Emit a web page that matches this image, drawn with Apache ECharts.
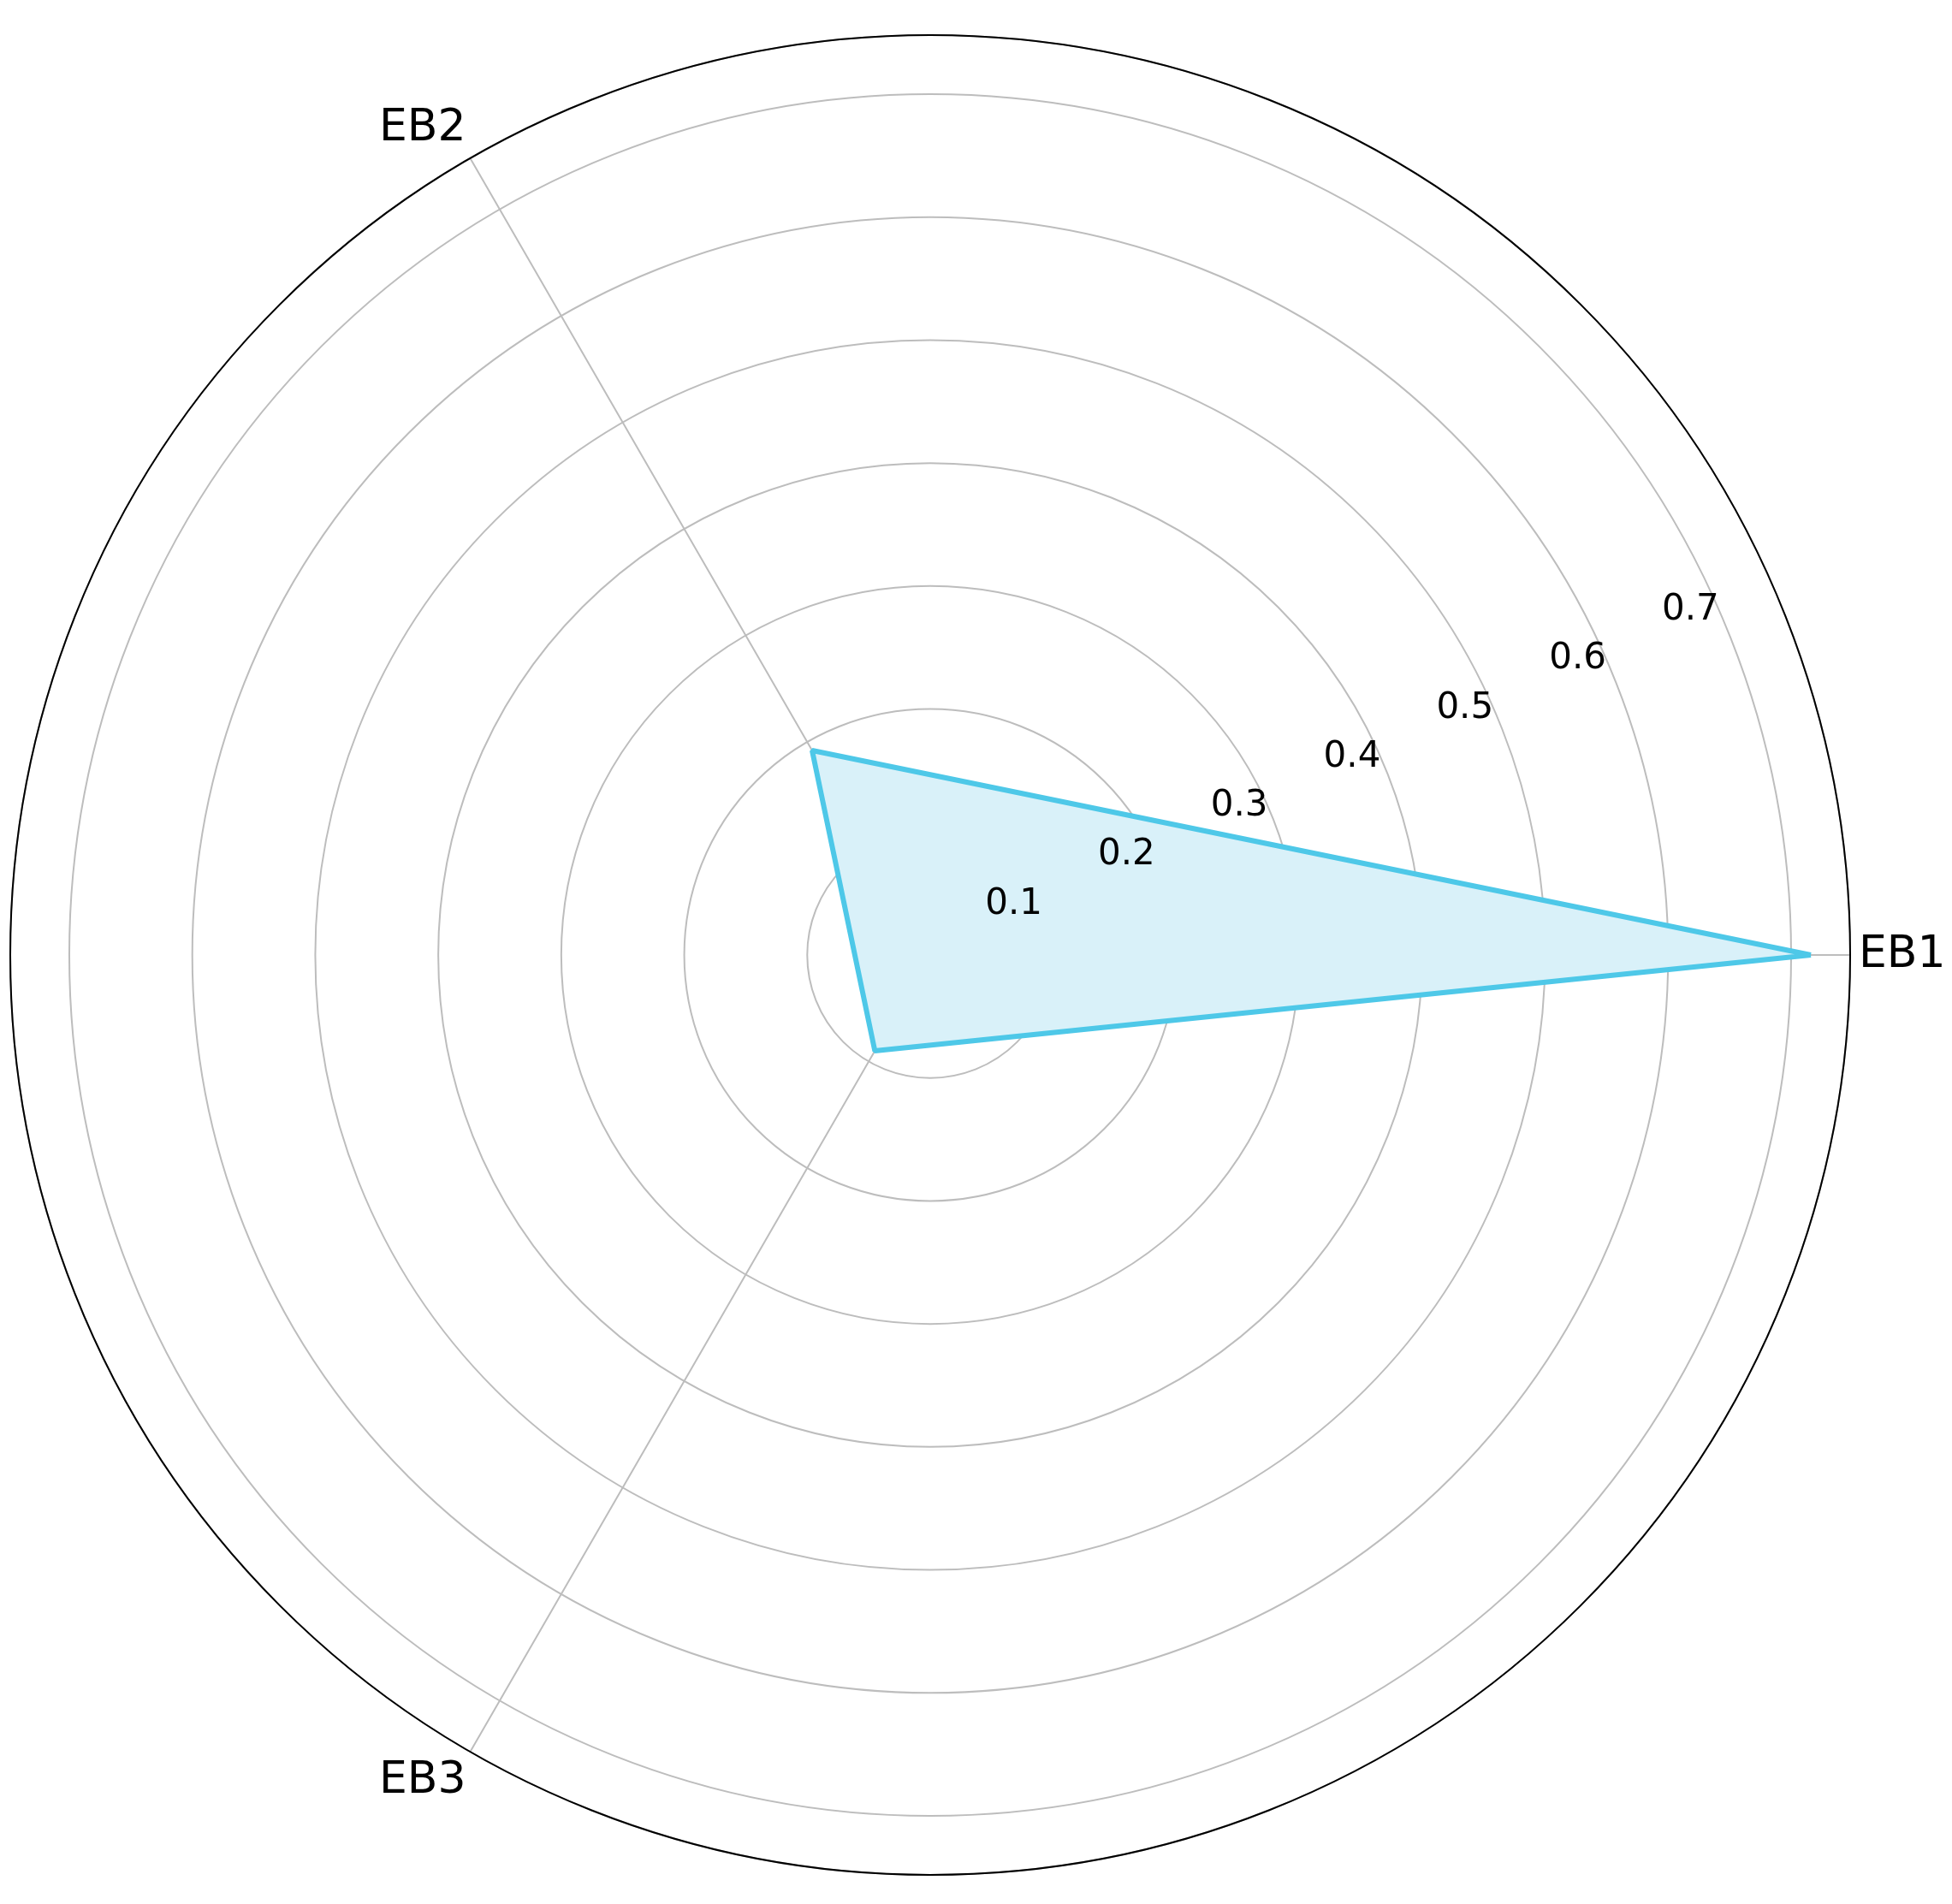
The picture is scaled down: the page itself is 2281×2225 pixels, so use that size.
<!DOCTYPE html>
<html><head><meta charset="utf-8">
<script src="https://cdn.jsdelivr.net/npm/echarts@6/dist/echarts.min.js"></script>
<style>html,body{margin:0;padding:0;background:#fff}#c{width:2281px;height:2225px}</style>
</head><body><div id="c"></div>
<script>
const categories = ['EB1','EB2','EB3'];
const categoryAngles = [0,120,240];
const values = [0.716, 0.192, 0.09];
const radialTicks = [0.1,0.2,0.3,0.4,0.5,0.6,0.7];
const rMax = 0.748;

const data = values.map((v,i)=>[v,categoryAngles[i]]);
data.push([values[0],360]);
const chart = echarts.init(document.getElementById('c'));
const center = [1087,1116], radius = 1075;
chart.setOption({
  animation:false,
  polar:[{center,radius},{center,radius}],
  angleAxis:[{
    polarIndex:0,type:'value',min:0,max:360,interval:120,startAngle:0,clockwise:false,
    axisLine:{lineStyle:{color:'#000',width:2}},axisTick:{show:false},
    axisLabel:{fontFamily:'DejaVu Sans',fontSize:52,color:'#000',margin:10,
      formatter:v=>{const i=categoryAngles.indexOf(v);return i>=0&&v<360?categories[i]:'';}},
    splitLine:{lineStyle:{color:'#bdbdbd',width:2}}
  },{
    polarIndex:1,type:'value',min:0,max:360,startAngle:23.5,clockwise:false,show:false
  }],
  radiusAxis:[{
    polarIndex:0,min:0,max:rMax,interval:0.1,
    axisLine:{show:false},axisTick:{show:false},axisLabel:{show:false},
    splitLine:{lineStyle:{color:'#bdbdbd',width:2}}
  },{
    polarIndex:1,min:0,max:rMax,interval:0.1,z:20,
    axisLine:{show:false},axisTick:{show:false},splitLine:{show:false},
    axisLabel:{fontFamily:'DejaVu Sans',fontSize:42,color:'#000',margin:2,
      formatter:v=>radialTicks.some(t=>Math.abs(t-v)<1e-6)?v.toFixed(1):''}
  }],
  series:[{
    type:'line',coordinateSystem:'polar',polarIndex:0,data,z:2,
    symbol:'none',lineStyle:{color:'#4ec8e8',width:6},
    areaStyle:{color:'#d9f1f9',opacity:1}
  }]
});
</script></body></html>
